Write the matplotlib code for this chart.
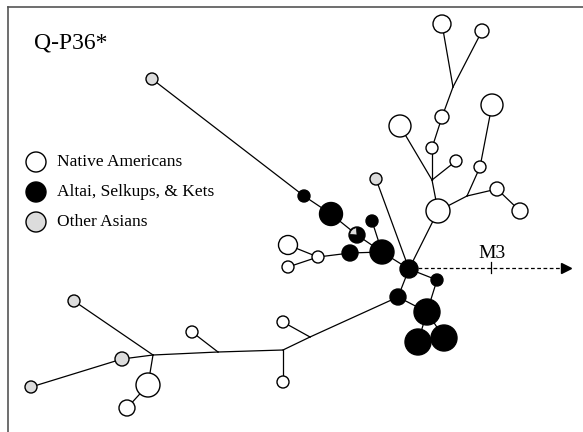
import matplotlib
matplotlib.use("Agg")
import matplotlib.pyplot as plt
from matplotlib.patches import Circle, Wedge

plt.rcParams['font.family'] = ['Liberation Serif', 'DejaVu Serif']

# haplotype nodes: position (x, y downward), radius, population group
# group 'mv' marks a median vector (unlabelled branch point)
node_x = [442, 482, 453, 442, 432, 432, 400, 456, 438, 492, 480, 467, 497, 520,
          376, 409, 152, 304, 331, 357, 372, 382, 350, 318, 288, 288, 437, 398,
          427, 418, 444, 310, 283, 283, 283, 218, 192, 153, 74, 122, 31, 148, 127]
node_y = [24, 31, 87, 117, 148, 180, 126, 161, 211, 105, 167, 196, 189, 211,
          179, 269, 79, 196, 214, 235, 221, 252, 253, 257, 245, 267, 280, 297,
          312, 342, 338, 337, 322, 350, 382, 352, 332, 355, 301, 359, 387, 385, 408]
node_r = [9, 7, 0, 7, 6, 0, 11, 6, 12, 11, 6, 0, 7, 8,
          6, 9, 6, 6, 11.5, 8, 6, 12, 8, 6, 9.5, 6, 6, 8,
          13, 13, 13, 0, 6, 0, 6, 0, 6, 0, 6, 7, 6, 12, 8]
node_group = ['na', 'na', 'mv', 'na', 'na', 'mv', 'na', 'na', 'na', 'na', 'na', 'mv', 'na', 'na',
              'other', 'asia', 'other', 'asia', 'asia', 'mix', 'asia', 'asia', 'asia', 'na', 'na', 'na', 'asia', 'asia',
              'asia', 'asia', 'asia', 'mv', 'na', 'mv', 'na', 'mv', 'na', 'mv', 'other', 'other', 'other', 'na', 'na']

edges = [(0, 2), (1, 2), (2, 3), (3, 4), (4, 5), (6, 5), (7, 5), (5, 8), (8, 11),
         (11, 10), (10, 9), (11, 12), (12, 13), (8, 15), (14, 15), (16, 17), (17, 18),
         (18, 19), (19, 21), (21, 15), (20, 21), (24, 23), (25, 23), (23, 22), (22, 21),
         (15, 26), (26, 28), (15, 27), (27, 28), (28, 29), (28, 30), (31, 27), (32, 31),
         (33, 31), (34, 33), (35, 33), (36, 35), (37, 35), (38, 37), (40, 39), (39, 37),
         (37, 41), (41, 42)]

legend_labels = ['Native Americans', 'Altai, Selkups, & Kets', 'Other Asians']
legend_groups = ['na', 'asia', 'other']

fills = {'na': 'white', 'asia': 'black', 'other': '#dcdcdc'}

W, H = 583, 432
fig = plt.figure(figsize=(W / 100, H / 100), dpi=100)
ax = fig.add_axes([0, 0, 1, 1])
ax.set_xlim(0, W)
ax.set_ylim(H, 0)
ax.set_aspect('equal')
ax.axis('off')

# frame (top and left edges only)
ax.plot([8, W], [7, 7], color='#555555', lw=1.2, zorder=1)
ax.plot([8, 8], [7, H], color='#555555', lw=1.2, zorder=1)

for a, b in edges:
    ax.plot([node_x[a], node_x[b]], [node_y[a], node_y[b]], color='black', lw=0.9, zorder=2)

for x, y, r, g in zip(node_x, node_y, node_r, node_group):
    if g == 'mv':
        continue
    if g == 'mix':
        # y axis is inverted, so 185-265 degrees lands in the upper-left quarter
        ax.add_patch(Circle((x, y), r, facecolor='black', edgecolor='black', lw=1, zorder=3))
        ax.add_patch(Wedge((x, y), r - 0.8, 185, 265, facecolor='#dcdcdc', edgecolor='black',
                           lw=0.5, zorder=4))
        continue
    ax.add_patch(Circle((x, y), r, facecolor=fills[g], edgecolor='black', lw=1, zorder=3))

# M3 mutation arrow from the central node
cx, cy = node_x[15], node_y[15]
ax.plot([cx + node_r[15], 562], [268, 268], color='black', lw=0.9, ls=(0, (3, 2)), zorder=2)
ax.plot([566], [268], marker='>', color='black', ms=7, zorder=3)
ax.plot([491, 491], [262, 273], color='black', lw=0.9, zorder=3)
ax.text(492, 258, 'M3', fontsize=14, ha='center', va='baseline')

ax.text(34, 43, 'Q-P36*', fontsize=17, ha='left', va='center')

for i, (lab, g) in enumerate(zip(legend_labels, legend_groups)):
    ly = 162 + 30 * i
    ax.add_patch(Circle((36, ly), 10, facecolor=fills[g], edgecolor='black', lw=1, zorder=3))
    ax.text(57, ly, lab, fontsize=12.5, ha='left', va='center')

fig.savefig('out.png', dpi=100)
